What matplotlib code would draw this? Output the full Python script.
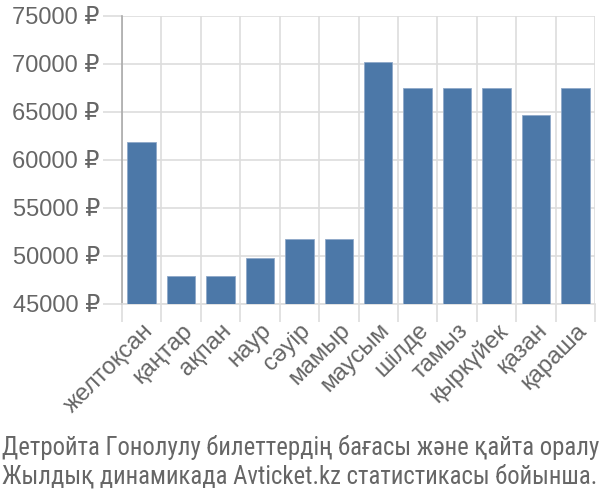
import matplotlib
matplotlib.use('Agg')
import matplotlib.pyplot as plt
import numpy as np

# Data
months = ['желтоқсан', 'қаңтар', 'ақпан', 'наур', 'сәуір', 'мамыр',
          'маусым', 'шілде', 'тамыз', 'қыркүйек', 'қазан', 'қараша']
prices = [61900, 47900, 47900, 49800, 51800, 51800,
          70200, 67500, 67500, 67500, 64700, 67500]
yticks = [45000, 50000, 55000, 60000, 65000, 70000, 75000]
caption = ['Детройта Гонолулу билеттердің бағасы және қайта оралу',
           'Жылдық динамикада Avticket.kz статистикасы бойынша.']

plt.rcParams['font.family'] = ['Liberation Sans', 'DejaVu Sans']

fig = plt.figure(figsize=(6, 5), dpi=100)
ax = fig.add_axes([0.2033, 0.392, 0.7884, 0.576])

x = np.arange(len(months))
ax.bar(x, prices, width=0.72, color='#4c78a8', edgecolor='#8fa9c9', linewidth=0.6, zorder=3)

ax.set_xlim(-0.5, len(months) - 0.5)
ax.set_ylim(45000, 75000)
ax.set_yticks(yticks)
ax.set_yticklabels([f'{v} ₽' for v in yticks], fontsize=17, color='#666666')

ax.set_xticks(x)
ax.set_xticklabels(months, rotation=45, ha='right', rotation_mode='anchor',
                   fontsize=17.3, color='#666666')
ax.set_xticks(np.arange(len(months) + 1) - 0.5, minor=True)

ax.tick_params(axis='x', which='major', length=0, pad=11)
ax.tick_params(axis='x', which='minor', length=13, color='#dddddd', width=1.2)
ax.tick_params(axis='y', length=14, color='#dddddd', width=1.2, pad=2)

ax.grid(axis='y', which='major', color='#dddddd', linewidth=1.2, zorder=0)
ax.grid(axis='x', which='minor', color='#dddddd', linewidth=1.2, zorder=0)

for s in ['top', 'right']:
    ax.spines[s].set_visible(False)
ax.spines['bottom'].set_color('#dddddd')
ax.spines['bottom'].set_linewidth(1.2)
ax.spines['left'].set_color('#aaaaaa')
ax.spines['left'].set_linewidth(1.2)

# Caption under the chart
fig.text(0.003, 0.09, caption[0], fontsize=17.85, color='#666666', ha='left', va='baseline',
         family=['Roboto Condensed', 'DejaVu Sans'])
fig.text(0.003, 0.034, caption[1], fontsize=17.85, color='#666666', ha='left', va='baseline',
         family=['Roboto Condensed', 'DejaVu Sans'])

fig.savefig('out.png', dpi=100)
